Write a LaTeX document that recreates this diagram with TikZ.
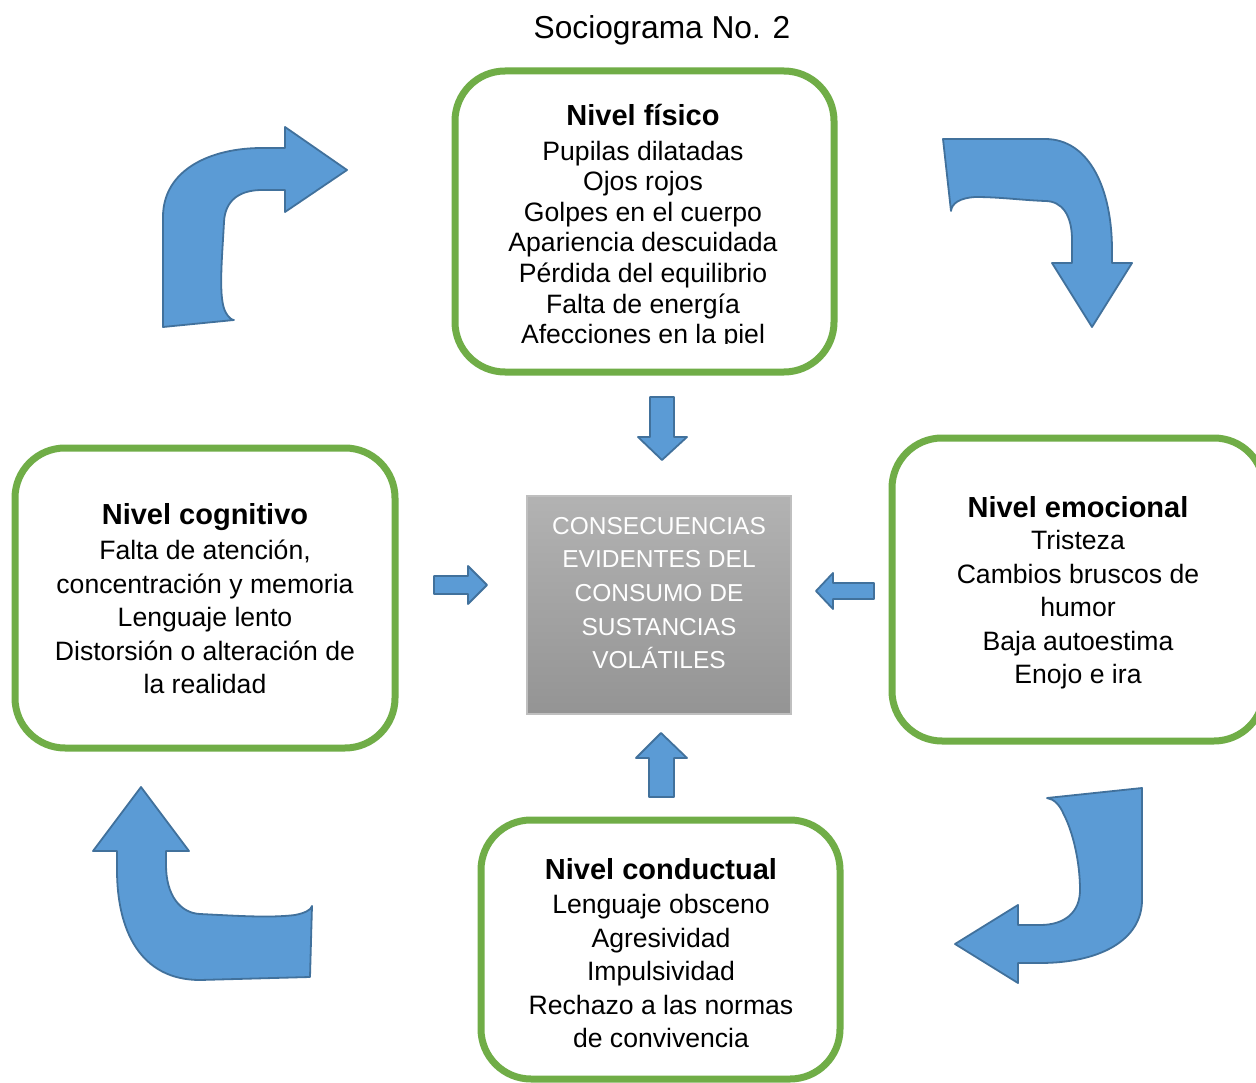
\documentclass[tikz,border=0pt]{standalone}
\usepackage{fontspec}
\setmainfont{Liberation Sans}
\definecolor{boxgreen}{HTML}{70AD47}
\definecolor{arrfill}{HTML}{5B9BD5}
\definecolor{arrdraw}{HTML}{41719C}
\tikzset{
  greenbox/.style={draw=boxgreen, line width=7pt, fill=white, rounded corners=50pt},
  blockarrow/.style={fill=arrfill, draw=arrdraw, line width=1.8pt, line join=round},
  headtxt/.style={font=\fontsize{29}{33}\selectfont\bfseries, inner sep=0pt},
  bodytxt/.style={font=\fontsize{26.6}{33.5}\selectfont, align=center, inner sep=0pt},
  centertxt/.style={font=\fontsize{24.5}{33.7}\selectfont, align=center, inner sep=0pt, text=white}
}
\begin{document}
\begin{tikzpicture}[x=1pt,y=-1pt]
\clip (0,0) rectangle (1256,1083);
\fill[white] (0,0) rectangle (1256,1083);

% title
\node[font=\fontsize{31.7}{36}\selectfont, inner sep=0pt] (title) at (662,30) {Sociograma No. 2};

% green boxes
\draw[greenbox] (455,71) rectangle (834,372);
\draw[greenbox] (15,448) rectangle (395,748);
\draw[greenbox] (892,438) rectangle (1264,741);
\draw[greenbox] (481,820) rectangle (840,1079);

% top box text
\node[headtxt] (fisH) at (643,115) {Nivel físico};
\begin{scope}
\clip (455,75) rectangle (834,344);
\node[bodytxt, font=\fontsize{26.6}{30.6}\selectfont] (fisB) at (643,245)
 {Pupilas dilatadas\\Ojos rojos\\Golpes en el cuerpo\\Apariencia descuidada\\Pérdida del equilibrio\\Falta de energía\\Afecciones en la piel};
\end{scope}

% left box text
\node[headtxt] (cogH) at (205,517) {Nivel cognitivo};
\node[bodytxt] (cogB) at (205,617)
 {Falta de atención,\\concentración y memoria\\Lenguaje lento\\Distorsión o alteración de\\la realidad};

% right box text
\node[headtxt] (emoH) at (1078,507) {Nivel emocional};
\node[bodytxt] (emoB) at (1078,610)
 {Tristeza\\Cambios bruscos de\\humor\\Baja autoestima\\Enojo e ira};

% bottom box text
\node[headtxt] (conH) at (661,869) {Nivel conductual};
\node[bodytxt] (conB) at (661,971)
 {Lenguaje obsceno\\Agresividad\\Impulsividad\\Rechazo a las normas\\de convivencia};

% center box
\shade[top color=black!30, bottom color=black!42, draw=black!25, line width=1.5pt] (527,496) rectangle (791,714);
\node[centertxt] (center) at (659,593)
 {CONSECUENCIAS\\EVIDENTES DEL\\CONSUMO DE\\SUSTANCIAS\\VOLÁTILES};

% small straight arrows
\draw[blockarrow] (650,397) -- (674,397) -- (674,437) -- (687,437) -- (662,460) -- (638,437) -- (650,437) -- cycle;
\draw[blockarrow] (434,576) -- (468,576) -- (468,566) -- (487,585) -- (468,604) -- (468,594) -- (434,594) -- cycle;
\draw[blockarrow] (874,583) -- (833,583) -- (833,573) -- (816,591) -- (833,609) -- (833,599) -- (874,599) -- cycle;
\draw[blockarrow] (649,797) -- (649,758) -- (636,758) -- (661,733) -- (687,758) -- (674,758) -- (674,797) -- cycle;

% curved arrows
\draw[blockarrow] (163,327) -- (163,217) .. controls (163,170) and (210,148) .. (262,148)
  -- (285,148) -- (285,127) -- (347,170) -- (285,212) -- (285,190) -- (262,190)
  .. controls (240,190) and (225,200) .. (224,222)
  .. controls (222,260) and (218,300) .. (226,313)
  .. controls (229,318) and (232,320) .. (234,320) -- cycle;

\draw[blockarrow] (943,139) -- (1045,139) .. controls (1090,139) and (1112,190) .. (1112,250)
  -- (1112,263) -- (1132,263) -- (1092,327) -- (1052,263) -- (1072,263) -- (1072,240)
  .. controls (1072,215) and (1062,201) .. (1045,201)
  .. controls (1020,200) and (1000,197) .. (975,197)
  .. controls (960,198) and (952,203) .. (951,211) -- cycle;

\draw[blockarrow] (1047,798) -- (1142,788) -- (1142,900)
  .. controls (1142,940) and (1100,963) .. (1040,963)
  -- (1018,963) -- (1018,983) -- (955,944) -- (1018,905) -- (1018,925) -- (1040,925)
  .. controls (1065,925) and (1080,912) .. (1080,890)
  .. controls (1080,860) and (1072,830) .. (1064,815)
  .. controls (1060,805) and (1054,799) .. (1047,798) -- cycle;

\draw[blockarrow] (141,787) -- (189,851) -- (166,851) -- (166,865)
  .. controls (166,895) and (180,913) .. (200,914)
  .. controls (240,916) and (270,918) .. (295,915)
  .. controls (305,913) and (311,910) .. (312,906)
  -- (310,977) -- (200,980)
  .. controls (140,980) and (117,930) .. (117,870)
  -- (117,851) -- (93,851) -- cycle;
\end{tikzpicture}
\end{document}
